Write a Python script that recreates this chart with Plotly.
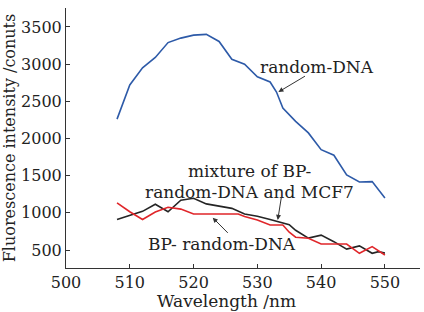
import plotly.graph_objects as go

# Wavelengths (nm) and intensities (counts)
wl_random = [508, 510, 512, 514, 516, 518, 520, 522, 524, 526, 528, 530, 532, 533, 534, 536, 538, 540, 542, 544, 546, 548, 550]
int_random = [2260, 2720, 2950, 3090, 3290, 3350, 3390, 3400, 3305, 3065, 3000, 2830, 2760, 2625, 2410, 2230, 2075, 1850, 1775, 1510, 1415, 1420, 1200]

wl_mix = [508, 510, 512, 514, 516, 518, 520, 522, 524, 526, 528, 530, 532, 534, 535, 536, 538, 540, 542, 544, 546, 548, 549, 550]
int_mix = [910, 965, 1020, 1115, 1015, 1170, 1195, 1120, 1090, 1060, 985, 955, 910, 870, 840, 765, 660, 700, 612, 512, 555, 456, 478, 458]

wl_bp = [508, 510, 512, 514, 516, 518, 520, 522, 524, 526, 527, 528, 530, 532, 534, 535, 536, 538, 540, 542, 544, 546, 548, 550]
int_bp = [1135, 1015, 910, 1010, 1075, 1050, 985, 985, 985, 985, 985, 950, 905, 837, 837, 740, 672, 658, 581, 581, 581, 456, 545, 433]

x_ticks = [500, 510, 520, 530, 540, 550]
y_ticks = [500, 1000, 1500, 2000, 2500, 3000, 3500]

FONT = "DejaVu Serif"

fig = go.Figure()
fig.add_trace(go.Scatter(x=wl_random, y=int_random, mode="lines",
                         line=dict(color="#2d5aa8", width=1.6), name="random-DNA"))
fig.add_trace(go.Scatter(x=wl_mix, y=int_mix, mode="lines",
                         line=dict(color="#252525", width=1.6), name="mixture"))
fig.add_trace(go.Scatter(x=wl_bp, y=int_bp, mode="lines",
                         line=dict(color="#e0262a", width=1.6), name="BP- random-DNA"))

ann_font = dict(family=FONT, size=17, color="#222")
fig.add_annotation(x=539.4, y=2960, xref="x", yref="y", text="random-DNA",
                   showarrow=False, font=ann_font, xanchor="center", yanchor="middle")
fig.add_annotation(x=533.3, y=2625, ax=537.7, ay=2850, axref="x", ayref="y",
                   xref="x", yref="y", text="", showarrow=True,
                   arrowhead=2, arrowsize=1, arrowwidth=1, arrowcolor="#333")

fig.add_annotation(x=528.8, y=1560, xref="x", yref="y", text="mixture of BP-",
                   showarrow=False, font=ann_font, xanchor="center", yanchor="middle")
fig.add_annotation(x=528.8, y=1285, xref="x", yref="y", text="random-DNA and MCF7",
                   showarrow=False, font=ann_font, xanchor="center", yanchor="middle")
fig.add_annotation(x=533.2, y=905, ax=533.8, ay=1230, axref="x", ayref="y",
                   xref="x", yref="y", text="", showarrow=True,
                   arrowhead=2, arrowsize=1, arrowwidth=1, arrowcolor="#333")

fig.add_annotation(x=524.5, y=585, xref="x", yref="y", text="BP- random-DNA",
                   showarrow=False, font=ann_font, xanchor="center", yanchor="middle")
fig.add_annotation(x=523.0, y=935, ax=525.6, ay=710, axref="x", ayref="y",
                   xref="x", yref="y", text="", showarrow=True,
                   arrowhead=2, arrowsize=1, arrowwidth=1, arrowcolor="#333")

plot_h = 312 - 8 - 44
plot_w = 424 - 66 - 4

# x-axis title as an annotation for exact placement
fig.add_annotation(x=(226 - 66) / plot_w, y=-(311.5 - 268) / plot_h, xref="paper", yref="paper",
                   text="Wavelength /nm", showarrow=False, borderpad=0,
                   font=dict(family=FONT, size=17, color="#222"),
                   xanchor="center", yanchor="bottom")

axis_common = dict(showgrid=False, zeroline=False, showline=True, linecolor="#333",
                   linewidth=1, ticks="inside", ticklen=4, tickcolor="#333",
                   tickfont=dict(family=FONT, size=16, color="#222"), mirror=False)

fig.update_xaxes(range=[500, 555.5], tickvals=x_ticks, ticktext=[str(v) for v in x_ticks],
                 ticklabelstandoff=0, **axis_common)
fig.update_yaxes(range=[258, 3755], tickvals=y_ticks, ticktext=[str(v) for v in y_ticks],
                 title=dict(text="Fluorescence intensity /conuts", font=dict(family=FONT, size=16, color="#222"),
                            standoff=4), **axis_common)

fig.update_layout(width=424, height=312, margin=dict(l=66, r=4, t=8, b=44),
                  paper_bgcolor="white", plot_bgcolor="white", showlegend=False)

fig.write_html("out.html")
